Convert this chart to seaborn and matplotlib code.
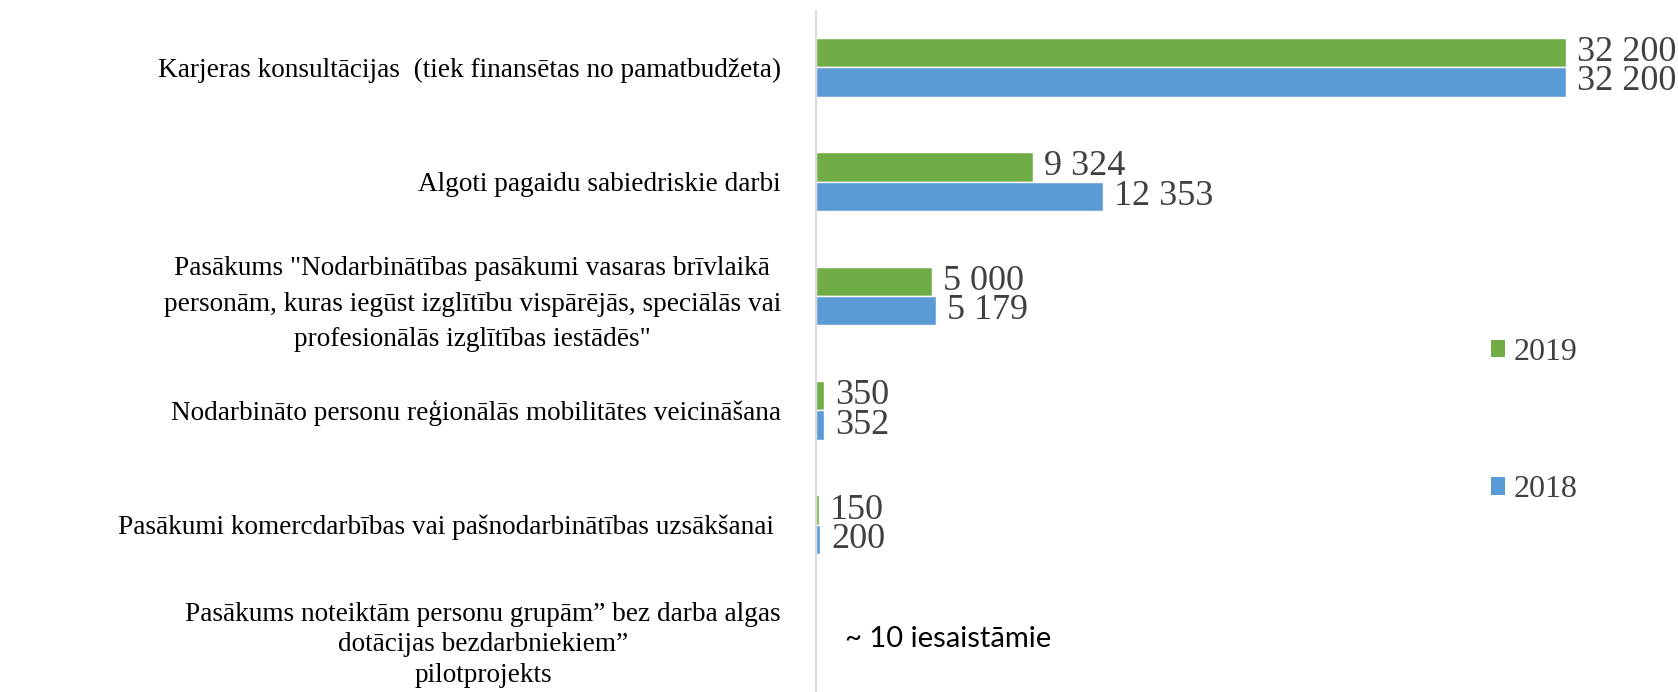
import matplotlib
matplotlib.use("Agg")
import matplotlib.pyplot as plt
import matplotlib.transforms as mtransforms
from matplotlib.patches import Patch
import seaborn as sns
import pandas as pd
import numpy as np

categories = [
    "Karjeras konsultācijas  (tiek finansētas no pamatbudžeta)",
    "Algoti pagaidu sabiedriskie darbi",
    "Pasākums \"Nodarbinātības pasākumi vasaras brīvlaikā\npersonām, kuras iegūst izglītību vispārējās, speciālās vai\nprofesionālās izglītības iestādēs\"",
    "Nodarbināto personu reģionālās mobilitātes veicināšana",
    "Pasākumi komercdarbības vai pašnodarbinātības uzsākšanai ",
    "Pasākums noteiktām personu grupām” bez darba algas\ndotācijas bezdarbniekiem”\npilotprojekts",
]
values_2019 = [32200, 9324, 5000, 350, 150, np.nan]
values_2018 = [32200, 12353, 5179, 352, 200, np.nan]
years = ["2019", "2018"]
note_text = "~ 10 iesaistāmie"

colors = {"2019": "#70AD47", "2018": "#5B9BD5"}

df = pd.DataFrame({
    "category": categories * 2,
    "value": values_2019 + values_2018,
    "year": ["2019"] * len(categories) + ["2018"] * len(categories),
})

sns.set_theme(style="white")
plt.rcParams["font.family"] = ["Liberation Serif", "DejaVu Serif"]

W, H = 1678, 692
fig = plt.figure(figsize=(W / 100, H / 100), dpi=100)
ax_left = 815.5 / W
ax_top = 10.7 / H
ax = fig.add_axes([ax_left, 0.0, 1.0 - ax_left, 1.0 - ax_top])

sns.barplot(data=df, x="value", y="category", hue="year", order=categories,
            hue_order=years, palette=colors, width=0.514, gap=0,
            saturation=1, orient="h", ax=ax, legend=False, errorbar=None)

ax.set_xlim(0, 32200 * (W - 815.5) / 750)
ax.set_ylim(5.463, -0.495)
ax.set_xlabel("")
ax.set_ylabel("")
ax.set_xticks([])
for s in ["top", "right", "bottom"]:
    ax.spines[s].set_visible(False)
ax.spines["left"].set_color("#D9D9D9")
ax.spines["left"].set_linewidth(1.5)
ax.tick_params(axis="y", length=0, pad=25, labelsize=19.6, labelcolor="black")
ylabels = ax.get_yticklabels()
for i, lab in enumerate(ylabels):
    lab.set_multialignment("center")
    lab.set_linespacing(1.3 if i == len(ylabels) - 1 else 1.55)

fmt = lambda v: f"{v:,.0f}".replace(",", " ")
for cont in ax.containers:
    ax.bar_label(cont, fmt=fmt, padding=8, fontsize=26, color="#404040",
                 clip_on=False)

trans = mtransforms.blended_transform_factory(ax.transAxes, ax.transData)
ax.text((845 - 815.5) / (W - 815.5), 5, note_text, transform=trans,
        ha="left", va="center", fontsize=21, family=["Lato", "DejaVu Sans"],
        color="black")

handles = [Patch(facecolor=colors[y], edgecolor="none", label=y) for y in years]
fig.legend(handles=handles, loc="center left",
           bbox_to_anchor=(1491 / W, 1 - 421 / H), frameon=False,
           fontsize=23, labelcolor="#404040", borderpad=0, borderaxespad=0,
           handlelength=0.45, handleheight=0.45, handletextpad=0.25,
           labelspacing=3.4)

fig.savefig("out.png", dpi=100)
